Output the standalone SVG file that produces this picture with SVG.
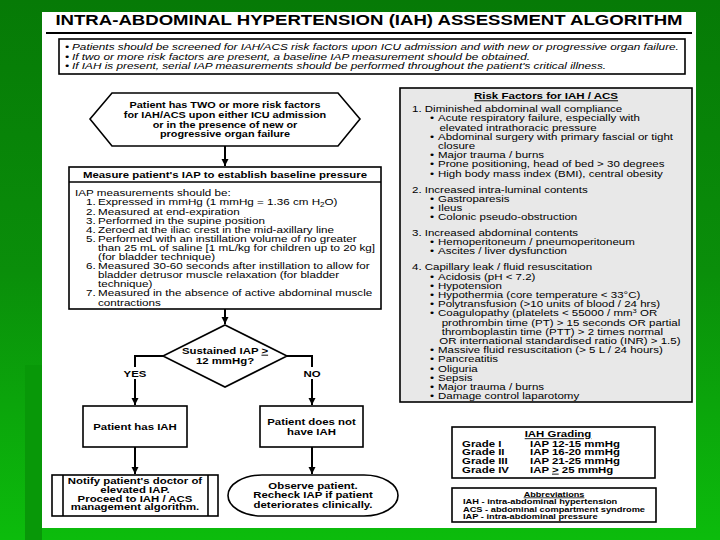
<svg xmlns="http://www.w3.org/2000/svg" width="720" height="540" viewBox="0 0 720 540">
<defs>
  <linearGradient id="bg" x1="0" y1="0" x2="0" y2="1">
    <stop offset="0" stop-color="#067a06"/>
    <stop offset="0.5" stop-color="#0a8e0a"/>
    <stop offset="1" stop-color="#0cbc0c"/>
  </linearGradient>
  <marker id="arr" viewBox="0 0 8 8" refX="8" refY="4" markerWidth="7" markerHeight="8" markerUnits="userSpaceOnUse" orient="auto">
    <path d="M0,0 L8,4 L0,8 z" fill="#000"/>
  </marker>
  <style>
    text { font-family: "Liberation Sans", Arial, sans-serif; fill: #000; }
    .b { font-weight: bold; }
    .c { text-anchor: middle; }
    .it { font-style: italic; font-size: 9.5px; }
    .hx { font-weight: bold; font-size: 9.2px; }
    .m { font-size: 9.1px; }
    .bx { font-weight: bold; font-size: 9.5px; }
    .nt { font-weight: bold; font-size: 8.9px; }
    .ob { font-weight: bold; font-size: 9.2px; }
    .r { font-size: 9.1px; }
    .gr { font-weight: bold; font-size: 8.9px; }
    .ab { font-weight: bold; font-size: 7.3px; }
    .u { text-decoration: underline; }
    .sh { fill: #fff; stroke: #000; stroke-width: 1.6; }
    .con { fill: none; stroke: #000; stroke-width: 2; }
  </style>
</defs>

<!-- background -->
<rect x="0" y="0" width="720" height="540" fill="url(#bg)"/>
<rect x="25" y="365" width="17" height="175" fill="#089808"/>
<rect x="42" y="12" width="654" height="516" fill="#fff"/>

<!-- title -->
<g id="title">
  <text class="b c" font-size="15.5" transform="translate(369,24.5) scale(1.2,1)">INTRA-ABDOMINAL HYPERTENSION (IAH) ASSESSMENT ALGORITHM</text>
  <line x1="46" y1="33" x2="692" y2="33" stroke="#000" stroke-width="2"/>
</g>

<!-- screening notes -->
<g id="notes">
  <rect x="59" y="39" width="626" height="35" fill="#fff" stroke="#000" stroke-width="1.6"/>
  <g transform="translate(72,0) scale(1.24,1)">
    <text class="it" x="-5.65" y="50">•</text>
    <text class="it" x="0" y="50">Patients should be screened for IAH/ACS risk factors upon ICU admission and with new or progressive organ failure.</text>
    <text class="it" x="-5.65" y="59.7">•</text>
    <text class="it" x="0" y="59.7">If two or more risk factors are present, a baseline IAP measurement should be obtained.</text>
    <text class="it" x="-5.65" y="69.4">•</text>
    <text class="it" x="0" y="69.4">If IAH is present, serial IAP measurements should be performed throughout the patient's critical illness.</text>
  </g>
</g>

<!-- start hexagon -->
<g id="start">
  <polygon class="sh" points="90,119 112,93 338,93 360,119 338,146 112,146"/>
  <g transform="translate(225,0) scale(1.18,1)">
    <text class="hx c" x="0" y="108">Patient has TWO or more risk factors</text>
    <text class="hx c" x="0" y="117.8">for IAH/ACS upon either ICU admission</text>
    <text class="hx c" x="0" y="127.6">or in the presence of new or</text>
    <text class="hx c" x="0" y="137.4">progressive organ failure</text>
  </g>
</g>

<!-- measure box -->
<g id="measure">
  <rect class="sh" x="69" y="167" width="312" height="142"/>
  <line x1="69" y1="182" x2="381" y2="182" stroke="#000" stroke-width="1.6"/>
  <text class="bx c" transform="translate(225,178.4) scale(1.2,1)">Measure patient's IAP to establish baseline pressure</text>
  <g transform="translate(75,0) scale(1.28,1)">
    <text class="m" x="0" y="196.4">IAP measurements should be:</text>
    <text class="m" x="8.6" y="205.5">1.</text>
    <text class="m" x="18" y="205.5">Expressed in mmHg (1 mmHg = 1.36 cm H<tspan font-size="6.3" dy="2">2</tspan><tspan dy="-2">O)</tspan></text>
    <text class="m" x="8.6" y="214.6">2.</text>
    <text class="m" x="18" y="214.6">Measured at end-expiration</text>
    <text class="m" x="8.6" y="223.7">3.</text>
    <text class="m" x="18" y="223.7">Performed in the supine position</text>
    <text class="m" x="8.6" y="232.8">4.</text>
    <text class="m" x="18" y="232.8">Zeroed at the iliac crest in the mid-axillary line</text>
    <text class="m" x="8.6" y="241.9">5.</text>
    <text class="m" x="18" y="241.9">Performed with an instillation volume of no greater</text>
    <text class="m" x="18" y="251">than 25 mL of saline [1 mL/kg for children up to 20 kg]</text>
    <text class="m" x="18" y="260.1">(for bladder technique)</text>
    <text class="m" x="8.6" y="269.2">6.</text>
    <text class="m" x="18" y="269.2">Measured 30-60 seconds after instillation to allow for</text>
    <text class="m" x="18" y="278.3">bladder detrusor muscle relaxation (for bladder</text>
    <text class="m" x="18" y="287.4">technique)</text>
    <text class="m" x="8.6" y="296.5">7.</text>
    <text class="m" x="18" y="296.5">Measured in the absence of active abdominal muscle</text>
    <text class="m" x="18" y="305.6">contractions</text>
  </g>
</g>

<!-- decision -->
<g id="decision">
  <polygon class="sh" points="225,325 287,356 225,387 163,356"/>
  <g transform="translate(225,0) scale(1.2,1)">
    <text class="bx c" x="0" y="353.8">Sustained IAP <tspan class="u">&gt;</tspan></text>
    <text class="bx c" x="0" y="363.6">12 mmHg?</text>
  </g>
</g>

<!-- outcome boxes -->
<g id="has-iah">
  <rect class="sh" x="83" y="406" width="104" height="41"/>
  <text class="bx c" transform="translate(135,430.3) scale(1.2,1)">Patient has IAH</text>
</g>

<g id="no-iah">
  <rect class="sh" x="260" y="406" width="103" height="41"/>
  <g transform="translate(311.5,0) scale(1.2,1)">
    <text class="bx c" x="0" y="425.2">Patient does not</text>
    <text class="bx c" x="0" y="435.4">have IAH</text>
  </g>
</g>

<g id="notify">
  <rect class="sh" x="52" y="475" width="166" height="41"/>
  <line x1="63" y1="475" x2="63" y2="516" stroke="#000" stroke-width="1.6"/>
  <line x1="208" y1="475" x2="208" y2="516" stroke="#000" stroke-width="1.6"/>
  <g transform="translate(135,0) scale(1.28,1)">
    <text class="nt c" x="0" y="484.3">Notify patient's doctor of</text>
    <text class="nt c" x="0" y="493">elevated IAP.</text>
    <text class="nt c" x="0" y="501.7">Proceed to IAH / ACS</text>
    <text class="nt c" x="0" y="510.4">management algorithm.</text>
  </g>
</g>

<g id="observe">
  <rect class="sh" x="228" y="475" width="170" height="41" rx="34" ry="20.5"/>
  <g transform="translate(313,0) scale(1.24,1)">
    <text class="ob c" x="0" y="489.2">Observe patient.</text>
    <text class="ob c" x="0" y="498.4">Recheck IAP if patient</text>
    <text class="ob c" x="0" y="507.6">deteriorates clinically.</text>
  </g>
</g>

<!-- connectors -->
<g id="connectors">
  <path class="con" d="M225,146 V166" marker-end="url(#arr)"/>
  <path class="con" d="M225,309 V324" marker-end="url(#arr)"/>
  <path class="con" d="M163,356 H135 V405" marker-end="url(#arr)"/>
  <path class="con" d="M287,356 H312 V405" marker-end="url(#arr)"/>
  <path class="con" d="M135,447 V474" marker-end="url(#arr)"/>
  <path class="con" d="M312,447 V474" marker-end="url(#arr)"/>
  <rect x="122" y="367" width="26" height="12" fill="#fff"/>
  <text class="bx c" transform="translate(135,376.7) scale(1.2,1)">YES</text>
  <rect x="302" y="367" width="20" height="12" fill="#fff"/>
  <text class="bx c" transform="translate(312,376.7) scale(1.2,1)">NO</text>
</g>

<!-- risk factors panel -->
<g id="risk-factors">
  <rect x="400" y="88" width="292" height="314" fill="#e8e8e8" stroke="#000" stroke-width="1.6"/>
  <text class="b c u" font-size="9.6" transform="translate(546,99.4) scale(1.2,1)">Risk Factors for IAH / ACS</text>
  <g transform="translate(412,0) scale(1.265,1)">
    <text class="r" x="0" y="112.3">1. Diminished abdominal wall compliance</text>
    <text class="r" x="14.2" y="121.5">•</text><text class="r" x="20.55" y="121.5">Acute respiratory failure, especially with</text>
    <text class="r" x="21.7" y="130.7">elevated intrathoracic pressure</text>
    <text class="r" x="14.2" y="139.9">•</text><text class="r" x="20.55" y="139.9">Abdominal surgery with primary fascial or tight</text>
    <text class="r" x="20.55" y="149.1">closure</text>
    <text class="r" x="14.2" y="158.3">•</text><text class="r" x="20.55" y="158.3">Major trauma / burns</text>
    <text class="r" x="14.2" y="167.5">•</text><text class="r" x="20.55" y="167.5">Prone positioning, head of bed &gt; 30 degrees</text>
    <text class="r" x="14.2" y="176.7">•</text><text class="r" x="20.55" y="176.7">High body mass index (BMI), central obesity</text>

    <text class="r" x="0" y="192.6">2. Increased intra-luminal contents</text>
    <text class="r" x="14.2" y="201.8">•</text><text class="r" x="20.55" y="201.8">Gastroparesis</text>
    <text class="r" x="14.2" y="211">•</text><text class="r" x="20.55" y="211">Ileus</text>
    <text class="r" x="14.2" y="220.2">•</text><text class="r" x="20.55" y="220.2">Colonic pseudo-obstruction</text>

    <text class="r" x="0" y="236.1">3. Increased abdominal contents</text>
    <text class="r" x="14.2" y="245.3">•</text><text class="r" x="20.55" y="245.3">Hemoperitoneum / pneumoperitoneum</text>
    <text class="r" x="14.2" y="254.5">•</text><text class="r" x="20.55" y="254.5">Ascites / liver dysfunction</text>

    <text class="r" x="0" y="270.4">4. Capillary leak / fluid resuscitation</text>
    <text class="r" x="14.2" y="279.6">•</text><text class="r" x="20.55" y="279.6">Acidosis (pH &lt; 7.2)</text>
    <text class="r" x="14.2" y="288.8">•</text><text class="r" x="20.55" y="288.8">Hypotension</text>
    <text class="r" x="14.2" y="298">•</text><text class="r" x="20.55" y="298">Hypothermia (core temperature &lt; 33°C)</text>
    <text class="r" x="14.2" y="307.2">•</text><text class="r" x="20.55" y="307.2">Polytransfusion (&gt;10 units of blood / 24 hrs)</text>
    <text class="r" x="14.2" y="316.4">•</text><text class="r" x="20.55" y="316.4">Coagulopathy (platelets &lt; 55000 / mm<tspan font-size="6" dy="-3.5">3</tspan><tspan dy="3.5"> OR</tspan></text>
    <text class="r" x="23.5" y="325.6">prothrombin time (PT) &gt; 15 seconds OR partial</text>
    <text class="r" x="23.5" y="334.8">thromboplastin time (PTT) &gt; 2 times normal</text>
    <text class="r" x="21.6" y="344">OR international standardised ratio (INR) &gt; 1.5)</text>
    <text class="r" x="14.2" y="353.2">•</text><text class="r" x="20.55" y="353.2">Massive fluid resuscitation (&gt; 5 L / 24 hours)</text>
    <text class="r" x="14.2" y="362.4">•</text><text class="r" x="20.55" y="362.4">Pancreatitis</text>
    <text class="r" x="14.2" y="371.6">•</text><text class="r" x="20.55" y="371.6">Oliguria</text>
    <text class="r" x="14.2" y="380.8">•</text><text class="r" x="20.55" y="380.8">Sepsis</text>
    <text class="r" x="14.2" y="390">•</text><text class="r" x="20.55" y="390">Major trauma / burns</text>
    <text class="r" x="14.2" y="399.2">•</text><text class="r" x="20.55" y="399.2">Damage control laparotomy</text>
  </g>
</g>

<!-- grading -->
<g id="grading">
  <rect x="452" y="427" width="203" height="51" fill="#fff" stroke="#000" stroke-width="1.6"/>
  <text class="gr c u" transform="translate(558,437.4) scale(1.285,1)">IAH Grading</text>
  <g transform="translate(462,0) scale(1.285,1)">
    <text class="gr" x="0" y="446.7">Grade I</text><text class="gr" x="52.9" y="446.7">IAP 12-15 mmHg</text>
    <text class="gr" x="0" y="455.4">Grade II</text><text class="gr" x="52.9" y="455.4">IAP 16-20 mmHg</text>
    <text class="gr" x="0" y="464.1">Grade III</text><text class="gr" x="52.9" y="464.1">IAP 21-25 mmHg</text>
    <text class="gr" x="0" y="472.8">Grade IV</text><text class="gr" x="52.9" y="472.8">IAP <tspan class="u">&gt;</tspan> 25 mmHg</text>
  </g>
</g>

<!-- abbreviations -->
<g id="abbreviations">
  <rect x="452" y="488" width="204" height="34" fill="#fff" stroke="#000" stroke-width="1.6"/>
  <text class="ab c u" font-size="7.6" transform="translate(554,496.6) scale(1.25,1)">Abbreviations</text>
  <g transform="translate(463,0) scale(1.27,1)">
    <text class="ab" x="0" y="504.4">IAH - intra-abdominal hypertension</text>
    <text class="ab" x="0" y="511.7">ACS - abdominal compartment syndrome</text>
    <text class="ab" x="0" y="518.9">IAP - intra-abdominal pressure</text>
  </g>
</g>
</svg>
